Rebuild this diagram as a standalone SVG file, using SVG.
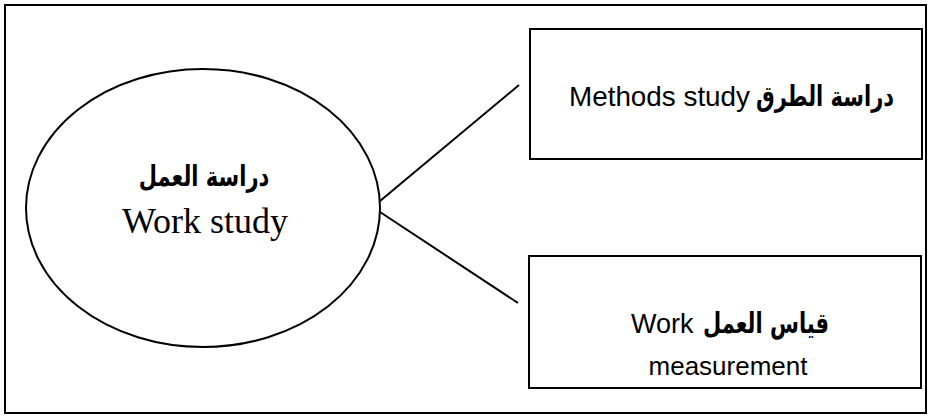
<svg xmlns="http://www.w3.org/2000/svg" width="930" height="417" viewBox="0 0 930 417">
<style>
.sh{fill:#fff;stroke:#000;stroke-width:2}
.ln{stroke:#000;stroke-width:2;fill:none}
.ar{font-family:"DejaVu Sans",sans-serif;font-size:21px;font-weight:bold;fill:#000}
.en{font-family:"Liberation Sans",Arial,sans-serif;fill:#000}
.ens{font-family:"Liberation Serif","Times New Roman",serif;fill:#000}
</style>
<rect x="0" y="0" width="930" height="417" fill="#fff"/>
<rect id="frame" x="5" y="5" width="921" height="408" fill="none" stroke="#000" stroke-width="2"/>
<g id="connectors">
<line class="ln" x1="380" y1="201" x2="519" y2="85"/>
<line class="ln" x1="380" y1="212" x2="518" y2="303"/>
</g>
<g id="work-study">
<ellipse class="sh" cx="203" cy="208" rx="177" ry="139"/>
<text class="ar" transform="translate(204,186) scale(1,1.35)" x="0" y="0" font-size="23" text-anchor="middle" direction="rtl">دراسة العمل</text>
<text class="ens" x="205" y="233" text-anchor="middle" font-size="36">Work study</text>
</g>
<g id="methods-study">
<rect class="sh" x="530" y="29" width="392" height="130"/>
<text class="en" x="569" y="106" font-size="28" textLength="181" lengthAdjust="spacingAndGlyphs">Methods study</text>
<text class="ar" transform="translate(825,106) scale(1,1.35)" x="0" y="0" text-anchor="middle" direction="rtl">دراسة الطرق</text>
</g>
<g id="work-measurement">
<rect class="sh" x="529" y="256" width="392" height="132"/>
<text class="en" x="631" y="333" font-size="27">Work</text>
<text class="ar" transform="translate(766,333) scale(1,1.35)" x="0" y="0" text-anchor="middle" direction="rtl">قياس العمل</text>
<text class="en" x="728" y="375" font-size="26" text-anchor="middle">measurement</text>
</g>
</svg>
